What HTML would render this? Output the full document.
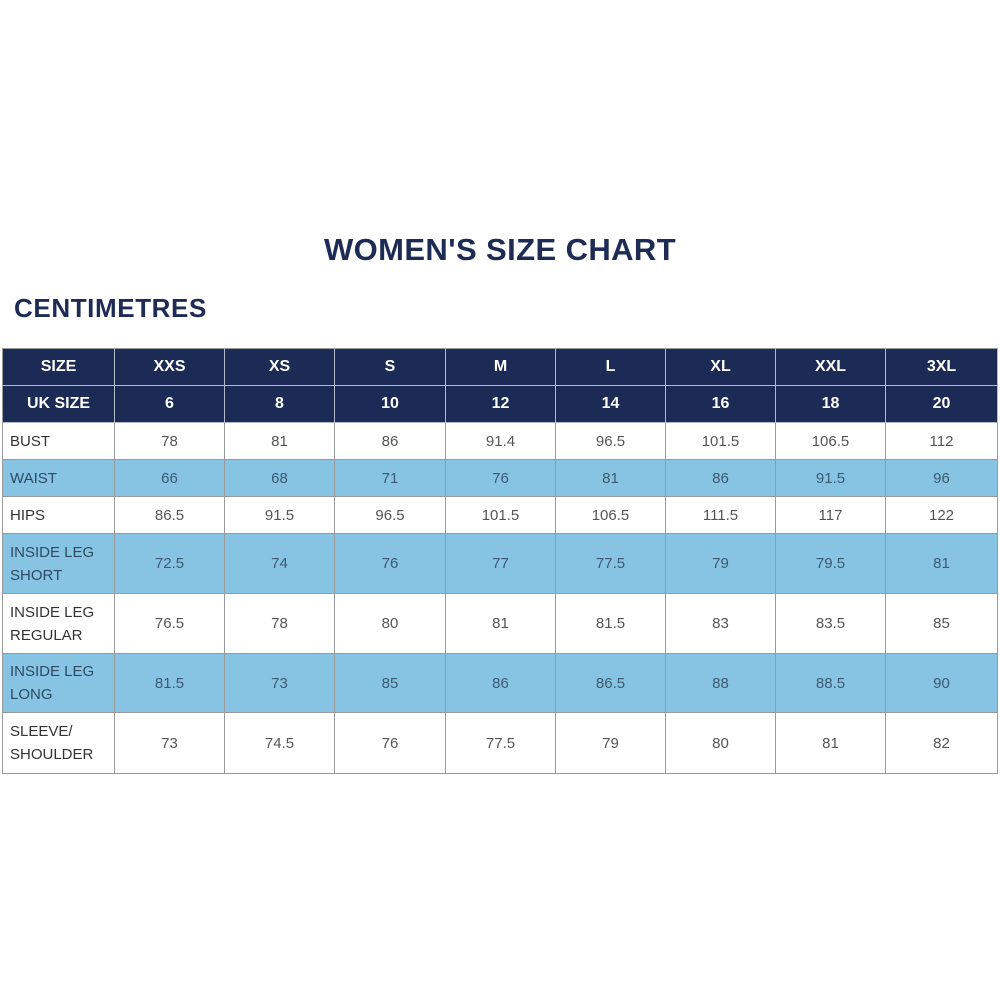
<!DOCTYPE html>
<html><head><style>
body{margin:0;width:1000px;height:1000px;background:#fff;position:relative;font-family:"Liberation Sans",sans-serif;overflow:hidden}
.t{position:absolute;color:#1d2b55;font-weight:bold}
.c{position:absolute;box-sizing:border-box;border-right:1px solid #9a9a9a;border-bottom:1px solid #9a9a9a;display:flex;align-items:center;justify-content:center;font-size:15px;color:#555}
.h{background:#1c2b55;color:#fff;font-weight:bold;font-size:16px;border-color:#b4b9c6}
.b{background:#87c4e4;color:#3d5a70}
.l{justify-content:flex-start;padding-left:7px;line-height:23px;color:#333}
.b.l{color:#2f4a60}
</style></head><body>
<div class="t" style="left:0;width:1000px;top:232px;text-align:center;font-size:31px;letter-spacing:0.4px">WOMEN'S SIZE CHART</div>
<div class="t" style="left:14px;top:293px;font-size:26px;letter-spacing:0.6px">CENTIMETRES</div>
<div id="tb"></div>
<script>
var xs=[2,115,225,335,446,556,666,776,886,998];
var ys=[348,386,423,460,497,534,594,654,713,774];
var rows=[
["SIZE","XXS","XS","S","M","L","XL","XXL","3XL"],
["UK SIZE","6","8","10","12","14","16","18","20"],
["BUST","78","81","86","91.4","96.5","101.5","106.5","112"],
["WAIST","66","68","71","76","81","86","91.5","96"],
["HIPS","86.5","91.5","96.5","101.5","106.5","111.5","117","122"],
["INSIDE LEG<br>SHORT","72.5","74","76","77","77.5","79","79.5","81"],
["INSIDE LEG<br>REGULAR","76.5","78","80","81","81.5","83","83.5","85"],
["INSIDE LEG<br>LONG","81.5","73","85","86","86.5","88","88.5","90"],
["SLEEVE/<br>SHOULDER","73","74.5","76","77.5","79","80","81","82"]];
var h="";
for(var r=0;r<9;r++)for(var c=0;c<9;c++){
var cls="c";if(r<2)cls+=" h";else if(r%2==1)cls+=" b";if(c==0&&r>=2)cls+=" l";
var st="left:"+xs[c]+"px;top:"+ys[r]+"px;width:"+(xs[c+1]-xs[c])+"px;height:"+(ys[r+1]-ys[r])+"px;";
if(c==0)st+="border-left:1px solid #9a9a9a;";if(r==0)st+="border-top:1px solid #9a9a9a;";
h+='<div class="'+cls+'" style="'+st+'">'+rows[r][c]+'</div>';}
document.getElementById("tb").innerHTML=h;
</script>
</body></html>
